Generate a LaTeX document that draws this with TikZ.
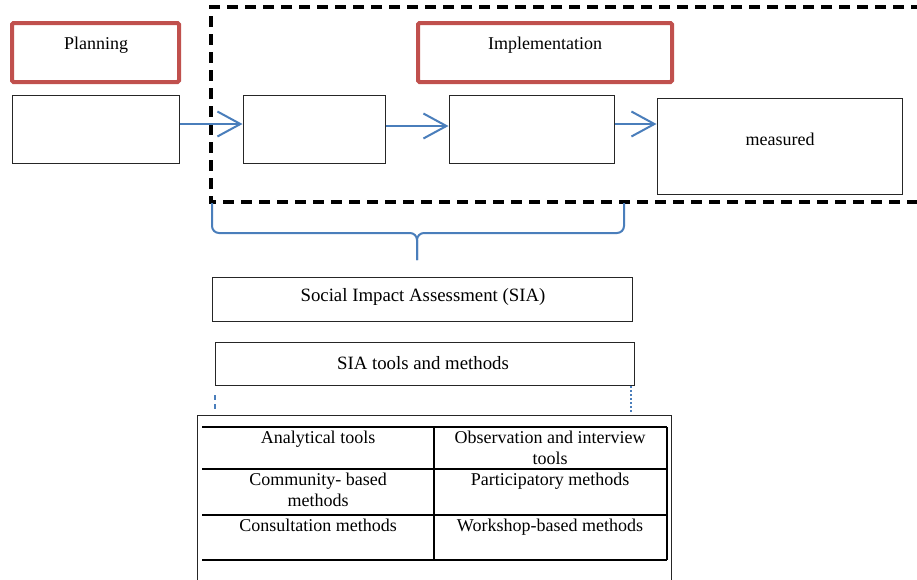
\documentclass[tikz,border=0pt]{standalone}
\usepackage{fontspec}
\setmainfont{Liberation Serif}
\usetikzlibrary{arrows.meta}
\definecolor{redb}{HTML}{C0504D}
\definecolor{blueb}{HTML}{4A7EBB}
\begin{document}
\begin{tikzpicture}[x=1pt,y=-1pt,
  font=\fontsize{18}{20}\selectfont,
  box/.style={draw=black!85, line width=1pt, inner sep=0pt},
  phase/.style={draw=redb, line width=4pt, rounded corners=1.5pt, inner sep=0pt},
  flow/.style={draw=blueb, line width=2pt, -{Straight Barb[length=23pt,width=25pt,line width=2pt]}},
  brace/.style={draw=blueb, line width=2pt, rounded corners=7pt},
  frame/.style={draw=black, line width=4pt, dash pattern=on 11pt off 7pt},
  grid/.style={draw=black, line width=1.6pt},
  siatext/.style={font=\fontsize{18.8}{21}\selectfont},
  cell/.style={anchor=north, align=center, inner sep=0pt, font=\fontsize{18}{20.5}\selectfont}]
\clip (0,0) rectangle (917,579);
\fill[white] (0,0) rectangle (917,579);

% dashed implementation frame
\draw[frame] (940,7) -- (211,7) -- (211,202) -- (940,202);

% phase labels
\node[phase, minimum width=167pt, minimum height=59pt] (plan) at (95.5,52.5) {};
\node (planT) at (96,45) {Planning};
\node[phase, minimum width=254pt, minimum height=59pt] (impl) at (545,52.5) {};
\node (implT) at (545,45) {Implementation};

% flow boxes
\node[box, minimum width=167pt, minimum height=68pt] (b1) at (95.5,129) {};
\node[box, minimum width=142pt, minimum height=68pt] (b2) at (314,129) {};
\node[box, minimum width=165pt, minimum height=68pt] (b3) at (531.5,129) {};
\node[box, minimum width=245pt, minimum height=96pt] (b4) at (779.5,146) {};
\node (b4T) at (780,139) {measured};

\draw[flow] ([yshift=5pt]b1.east) -- ([yshift=5pt]b1.east -| b2.west);
\draw[flow] ([yshift=3pt]b2.east) -- ([yshift=3pt]b2.east -| b3.west);
\draw[flow] ([yshift=5pt]b3.east) -- ([yshift=5pt]b3.east -| b4.west);

% brace
\coordinate (brL) at (212,203);
\coordinate (brR) at (624,203);
\coordinate (brM) at (417,233);
\coordinate (brTip) at (417,260);
\draw[brace] (brL) -- (brL |- brM) -- (brM) -- (brTip);
\draw[brace] (brR) -- (brR |- brM) -- (brM) -- (brTip);

% SIA boxes
\node[box, minimum width=420pt, minimum height=44pt] (sia) at (422,299) {};
\node[siatext] (siaT) at (423,297) {Social Impact Assessment (SIA)};
\node[box, minimum width=419pt, minimum height=43pt] (tools) at (424.5,363.5) {};
\node[siatext] (toolsT) at (423,363) {SIA tools and methods};

% outer frame for table
\coordinate (oTL) at (197,415);
\coordinate (oTR) at (671,415);
\draw[black!85, line width=1pt] (197,600) -- (oTL) -- (oTR) -- (671,600);

% blue connectors
\coordinate (cL1) at (215,395);
\coordinate (cL2) at (215,412);
\coordinate (cR1) at (631,386);
\coordinate (cR2) at (631,412);
\draw[blueb, line width=1.5pt, dash pattern=on 5pt off 4pt] (cL1) -- (cL2);
\draw[blueb, line width=1.5pt, dash pattern=on 1.6pt off 2.4pt] (cR1) -- (cR2);

% table grid
\draw[grid] (202,427) -- (667,427);
\draw[grid] (202,469) -- (667,469);
\draw[grid] (202,515) -- (667,515);
\draw[grid] (202,560) -- (667,560);
\draw[grid] (434,427) -- (434,560);
\draw[grid] (667,427) -- (667,560);

% table cells
\node[cell] (c11) at (318,431) {Analytical tools};
\node[cell] (c12) at (550,431) {Observation and interview\\tools};
\node[cell] (c21) at (318,473) {Community- based\\methods};
\node[cell] (c22) at (550,473) {Participatory methods};
\node[cell] (c31) at (318,519) {Consultation methods};
\node[cell] (c32) at (550,519) {Workshop-based methods};
\end{tikzpicture}
\end{document}
